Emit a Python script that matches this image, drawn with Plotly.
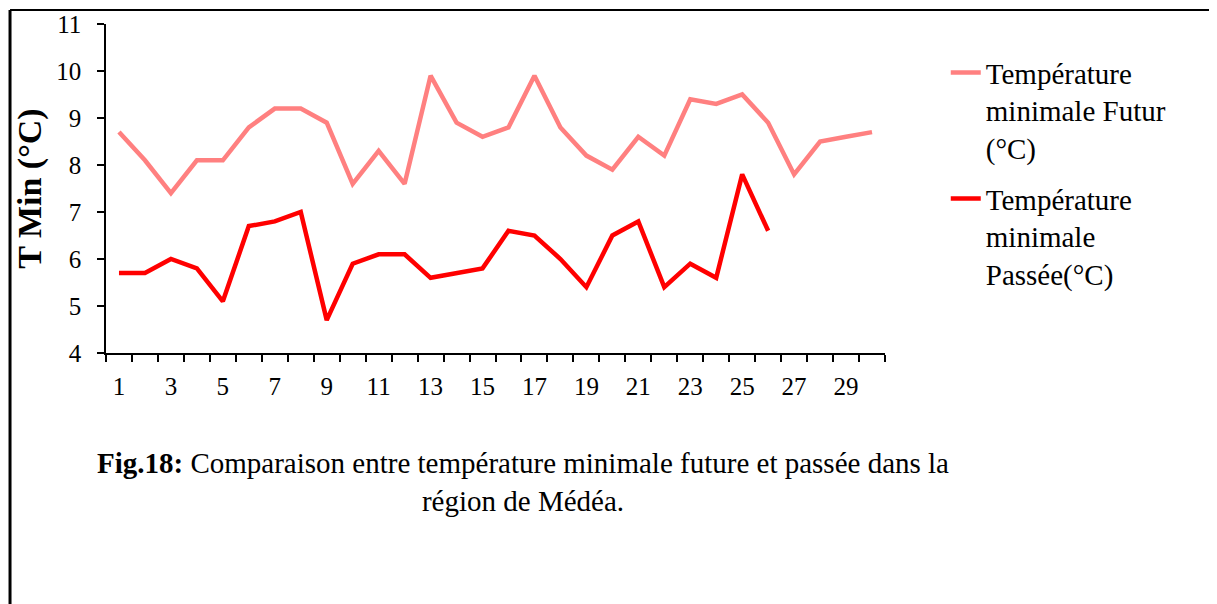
import plotly.graph_objects as go

# day index and minimum temperatures (°C)
jours = list(range(1, 31))
t_futur = [8.7, 8.1, 7.4, 8.1, 8.1, 8.8, 9.2, 9.2, 8.9, 7.6,
           8.3, 7.6, 9.9, 8.9, 8.6, 8.8, 9.9, 8.8, 8.2, 7.9,
           8.6, 8.2, 9.4, 9.3, 9.5, 8.9, 7.8, 8.5, 8.6, 8.7]
t_passee = [5.7, 5.7, 6.0, 5.8, 5.1, 6.7, 6.8, 7.0, 4.7, 5.9,
            6.1, 6.1, 5.6, 5.7, 5.8, 6.6, 6.5, 6.0, 5.4, 6.5,
            6.8, 5.4, 5.9, 5.6, 7.8, 6.6, None, None, None, None]
x_labels = [str(j) for j in jours if j % 2 == 1]

serif = 'Liberation Serif'

fig = go.Figure()
fig.add_trace(go.Scatter(x=jours, y=t_futur, mode='lines',
                         name='Température<br>minimale Futur<br>(°C)',
                         legendgroup='f',
                         line=dict(color='#FF8080', width=4.5)))
fig.add_trace(go.Scatter(x=jours, y=t_passee, mode='lines',
                         name='Température<br>minimale<br>Passée(°C)',
                         legendgroup='p',
                         line=dict(color='#FF0000', width=4.5)))

# page body adds an 8px offset, so margins are shifted back by 8px
fig.update_layout(
    width=1217, height=604,
    margin=dict(l=98, r=340, t=16, b=259),
    paper_bgcolor='white', plot_bgcolor='white',
    font=dict(family=serif, color='black', size=25),
    showlegend=True,
    legend=dict(x=1.078, y=0.93, xanchor='left', yanchor='top',
                font=dict(family=serif, size=29, color='black'),
                valign='top', traceorder='grouped', tracegroupgap=10,
                bgcolor='rgba(0,0,0,0)'),
)

fig.update_xaxes(range=[0.5, 30.5], tickmode='array',
                 tickvals=[j for j in jours if j % 2 == 1], ticktext=x_labels,
                 ticks='', ticklabelstandoff=10, automargin=False,
                 minor=dict(tick0=0.5, dtick=1, ticks='outside', ticklen=7,
                            tickwidth=1.5, tickcolor='black'),
                 showline=True, linecolor='black', linewidth=1.5,
                 showgrid=False, zeroline=False,
                 tickfont=dict(family=serif, size=25))
fig.update_yaxes(range=[4, 11], dtick=1, ticks='outside', ticklen=7,
                 tickwidth=1.5, tickcolor='black', ticklabelstandoff=11,
                 automargin=False,
                 showline=True, linecolor='black', linewidth=1.5,
                 showgrid=False, zeroline=False,
                 tickfont=dict(family=serif, size=25),
                 title=dict(text='<b>T Min (°C)</b>', standoff=4,
                            font=dict(family=serif, size=34)))

# caption (two centred lines)
fig.add_annotation(text='<b>Fig.18:</b> Comparaison entre température minimale future et passée dans la'
                        '<br>région de Médéa.',
                   xref='paper', yref='paper', x=0.535, y=-0.392,
                   xanchor='center', yanchor='middle', align='center',
                   showarrow=False, font=dict(family=serif, size=29))

# outer frame
fig.add_shape(type='line', xref='paper', yref='paper', x0=-0.1232, x1=-0.1232,
              y0=1.0426, y1=-0.8, line=dict(color='black', width=3))
fig.add_shape(type='line', xref='paper', yref='paper', x0=-0.1232, x1=1.4262,
              y0=1.0426, y1=1.0426, line=dict(color='black', width=2))
fig.add_shape(type='line', xref='paper', yref='paper', x0=1.4262, x1=1.4262,
              y0=1.0426, y1=-0.8, line=dict(color='#808080', width=1.5))

fig.write_html('out.html')
